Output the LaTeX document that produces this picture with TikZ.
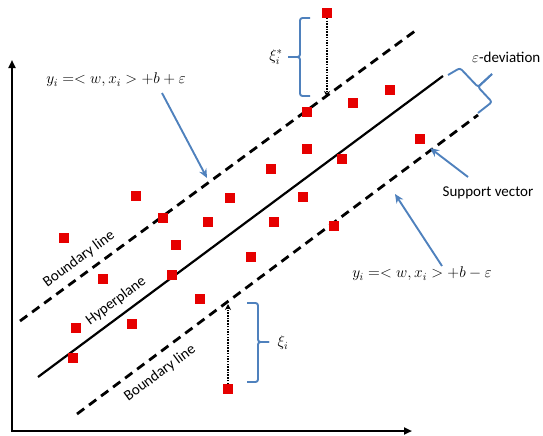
\RequirePackage{fix-cm}
\documentclass[tikz,border=0pt]{standalone}
\usepackage{fontspec}
\setmainfont{Carlito}
\usetikzlibrary{arrows.meta}
\definecolor{bl}{HTML}{4F81BD}
\definecolor{rd}{HTML}{E60000}
\begin{document}
\begin{tikzpicture}[x=1pt,y=-1pt,
  pt/.style={rectangle,fill=rd,minimum size=9.5pt,inner sep=0pt},
  bdash/.style={line width=2.8pt,dash pattern=on 9pt off 6pt},
  hyp/.style={line width=2.2pt},
  axis/.style={line width=2pt,line join=miter},
  brc/.style={draw=bl,line width=1.9pt,rounded corners=2.5pt},
  ptr/.style={draw=bl,line width=1.9pt,-{Stealth[length=9pt,width=8pt]}},
  slack/.style={line width=2.4pt,dash pattern=on 1.5pt off 1.2pt,-{Stealth[length=6pt,width=6pt]}},
  lbl/.style={font=\fontsize{15}{17}\selectfont,inner sep=1pt},
  eqn/.style={font=\fontsize{15.5}{18}\selectfont,inner sep=1pt}]
\useasboundingbox (0,0) rectangle (543,436);
% axes
\coordinate (O) at (12,431);
\coordinate (Ytop) at (12,60);
\coordinate (Xend) at (412,431);
\draw[axis,{Triangle[length=8pt,width=7pt]}-{Triangle[length=8pt,width=7pt]}] (Ytop) -- (O) -- (Xend);
% lines
\coordinate (U1) at (20,321); \coordinate (U2) at (415,31);
\coordinate (H1) at (38,377); \coordinate (H2) at (443,76);
\coordinate (L1) at (77,414); \coordinate (L2) at (478,115);
\draw[bdash] (U1) -- (U2);
\draw[hyp] (H1) -- (H2);
\draw[bdash] (L1) -- (L2);
% points
\node[pt] (p1) at (327,13) {};
\node[pt] (p2) at (390,90) {};
\node[pt] (p3) at (353,103) {};
\node[pt] (p4) at (307,112) {};
\node[pt] (p5) at (307,149) {};
\node[pt] (p6) at (342,159) {};
\node[pt] (p7) at (420,139) {};
\node[pt] (p8) at (271,169) {};
\node[pt] (p9) at (230,198) {};
\node[pt] (p10) at (303,197) {};
\node[pt] (p11) at (136,196) {};
\node[pt] (p12) at (163,218) {};
\node[pt] (p13) at (208,222) {};
\node[pt] (p14) at (274,222) {};
\node[pt] (p15) at (334,226) {};
\node[pt] (p16) at (64,238) {};
\node[pt] (p17) at (176,245) {};
\node[pt] (p18) at (251,257) {};
\node[pt] (p19) at (103,279) {};
\node[pt] (p20) at (172,275) {};
\node[pt] (p21) at (200,299) {};
\node[pt] (p22) at (76,328) {};
\node[pt] (p23) at (132,324) {};
\node[pt] (p24) at (73,358) {};
\node[pt] (p25) at (228,389) {};
% slack arrows
\coordinate (s1) at (327,97);
\coordinate (s2) at (228,304);
\draw[slack] (p1) -- (s1);
\draw[slack] (p25) -- (s2);
% braces
\draw[brc] (310,18) -- (300,18) -- (300,57) -- (288,57);
\draw[brc] (288,57) -- (300,57) -- (300,96) -- (310,96);
\draw[brc] (247,303) -- (258,303) -- (258,342) -- (269,342);
\draw[brc] (269,342) -- (258,342) -- (258,382) -- (247,382);
\draw[brc] (448,75) -- (460,68) -- (478,87) -- (492,74);
\draw[brc] (492,74) -- (478,87) -- (492,102) -- (478,113);
% labels
\node[eqn] (eq1) at (116,80) {$y_i =< w, x_i > +b + \varepsilon$};
\node[eqn] (eq2) at (422,274) {$y_i =< w, x_i > +b - \varepsilon$};
\node[eqn] (xs) at (276,57) {$\xi_i^*$};
\node[eqn] (xi) at (283,343) {$\xi_i$};
\node[lbl,anchor=west] (ed) at (471,57) {$\varepsilon$-deviation};
\node[lbl] (sv) at (488,193) {Support vector};
\node[lbl,rotate=36.5] (bl1) at (79,259) {Boundary line};
\node[lbl,rotate=36.5] (hp) at (116,301) {Hyperplane};
\node[lbl,rotate=36.5] (bl2) at (160,373) {Boundary line};
% pointers
\coordinate (f1) at (162,93); \coordinate (t1) at (207,178);
\coordinate (f2) at (468,177); \coordinate (t2) at (430,148);
\coordinate (f3) at (442,266); \coordinate (t3) at (395,194);
\draw[ptr] (f1) -- (t1);
\draw[ptr] (f2) -- (t2);
\draw[ptr] (f3) -- (t3);
\end{tikzpicture}
\end{document}
